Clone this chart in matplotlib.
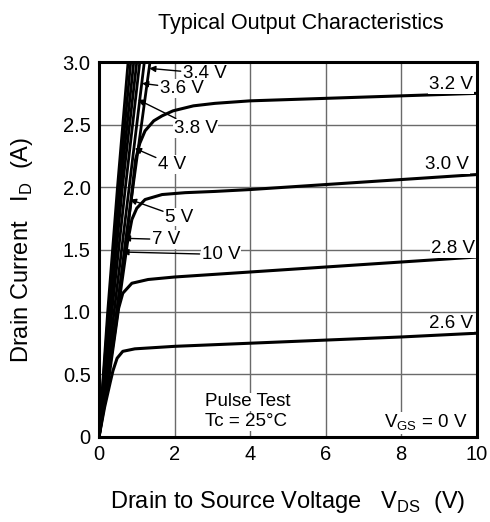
import numpy as np
import matplotlib.pyplot as plt

plt.rcParams['font.family'] = ['Liberation Sans', 'DejaVu Sans']

# Saturation-type curves (low gate voltages)
vds_26 = [0, 0.15, 0.30, 0.37, 0.48, 0.63, 0.95, 2, 4, 6, 8, 10]
id_26 = [0, 0.24, 0.44, 0.53, 0.63, 0.685, 0.705, 0.725, 0.75, 0.775, 0.80, 0.83]

vds_28 = [0, 0.25, 0.45, 0.52, 0.63, 0.87, 1.3, 2, 4, 6, 8, 10]
id_28 = [0, 0.45, 0.88, 1.03, 1.15, 1.23, 1.26, 1.28, 1.32, 1.36, 1.40, 1.44]

vds_30 = [0, 0.40, 0.75, 0.87, 1.0, 1.22, 1.67, 2.28, 3.07, 4, 6, 8, 10]
id_30 = [0, 0.80, 1.55, 1.74, 1.83, 1.90, 1.94, 1.955, 1.965, 1.98, 2.02, 2.06, 2.10]

vds_32 = [0, 0.45, 0.85, 0.97, 1.08, 1.22, 1.45, 1.67, 1.96, 2.5, 3.07, 4, 6, 8, 10]
id_32 = [0, 0.95, 1.90, 2.22, 2.35, 2.45, 2.53, 2.57, 2.61, 2.65, 2.67, 2.69, 2.71, 2.73, 2.75]

# Steep curves (high gate voltages): x at I_D = 0, 1, 2, 3 A
id_steep = [0, 1.0, 2.0, 3.0]
vds_10 = [0, 0.23, 0.49, 0.77]
vds_7 = [0, 0.25, 0.53, 0.84]
vds_5 = [0, 0.27, 0.57, 0.92]
vds_4 = [0, 0.30, 0.62, 1.00]
vds_38 = [0, 0.34, 0.70, 1.08]
vds_36 = [0, 0.40, 0.80, 1.20]
vds_34 = [0, 0.47, 0.90, 1.35]

# labels for steep curves: text, text position, arrow tip
steep_labels = ['3.4 V', '3.6 V', '3.8 V', '4 V', '5 V', '7 V', '10 V']
label_x = [2.22, 1.61, 1.98, 1.56, 1.75, 1.40, 2.72]
label_y = [2.91, 2.79, 2.47, 2.18, 1.76, 1.58, 1.46]
tip_x = [1.33, 1.14, 1.03, 0.95, 0.82, 0.66, 0.62]
tip_y = [2.95, 2.83, 2.70, 2.31, 1.90, 1.59, 1.48]

fig = plt.figure(figsize=(4.9, 5.22), dpi=100)
ax = fig.add_axes([0.202, 0.163, 0.771, 0.718])

ax.set_xlim(0, 10)
ax.set_ylim(0, 3)
ax.set_xticks([0, 2, 4, 6, 8, 10])
ax.set_yticks([0, 0.5, 1.0, 1.5, 2.0, 2.5, 3.0])
ax.set_yticklabels(['0', '0.5', '1.0', '1.5', '2.0', '2.5', '3.0'])
ax.tick_params(length=0, pad=6, labelsize=14.5)
ax.grid(True, color='#6a6a6a', lw=1.0)
ax.set_axisbelow(True)
for s in ax.spines.values():
    s.set_linewidth(2.2)

for xs, ys in [(vds_26, id_26), (vds_28, id_28), (vds_30, id_30), (vds_32, id_32)]:
    ax.plot(xs, ys, color='k', lw=2.2, solid_capstyle='butt', zorder=3)

for xs in [vds_10, vds_7, vds_5, vds_4, vds_38, vds_36, vds_34]:
    ax.plot(xs, id_steep, color='k', lw=2.0, zorder=3)

box = dict(facecolor='white', edgecolor='none', pad=0.5)
for t, lx, ly, tx, ty in zip(steep_labels, label_x, label_y, tip_x, tip_y):
    ax.annotate(t, xy=(tx, ty), xytext=(lx, ly), fontsize=13.5, va='center', ha='left',
                bbox=box, zorder=5,
                arrowprops=dict(arrowstyle='-|>', color='k', lw=1.0, mutation_scale=9,
                                shrinkA=1, shrinkB=0))

# right-side curve labels
ax.text(9.9, 2.82, '3.2 V', fontsize=13.5, ha='right', va='center', bbox=box, zorder=4)
ax.text(9.8, 2.18, '3.0 V', fontsize=13.5, ha='right', va='center', bbox=box, zorder=4)
ax.text(9.95, 1.51, '2.8 V', fontsize=13.5, ha='right', va='center', bbox=box, zorder=4)
ax.text(9.9, 0.91, '2.6 V', fontsize=13.5, ha='right', va='center', bbox=box, zorder=4)

ax.text(2.8, 0.28, 'Pulse Test', fontsize=13.5, ha='left', va='center', bbox=box, zorder=4)
ax.text(2.8, 0.12, 'Tc = 25°C', fontsize=13.5, ha='left', va='center', bbox=box, zorder=4)
ax.text(9.75, 0.11, r'V$_{\mathregular{GS}}$ = 0 V', fontsize=13.5, ha='right', va='center',
        bbox=box, zorder=4)

ax.set_title('Typical Output Characteristics', fontsize=15.5, pad=24, x=0.535)
ax.set_xlabel(r'Drain to Source Voltage   V$_{\mathregular{DS}}$  (V)', fontsize=17, labelpad=18)
ax.set_ylabel(r'Drain Current   I$_{\mathregular{D}}$  (A)', fontsize=17, labelpad=20)

fig.savefig('out.png', dpi=100)
